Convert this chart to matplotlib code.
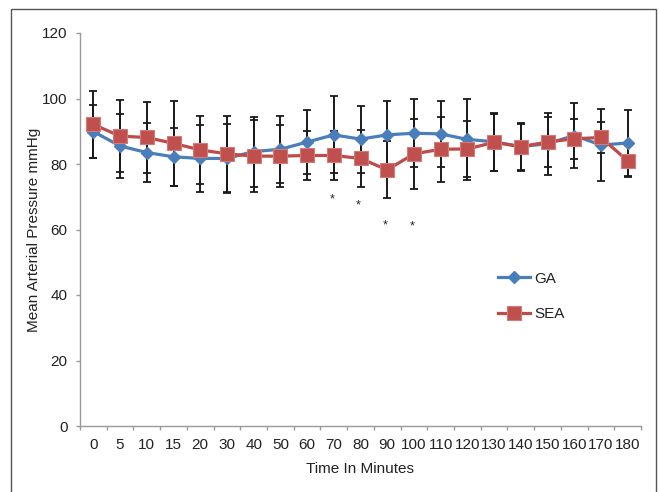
import matplotlib
matplotlib.use("Agg")
import matplotlib.pyplot as plt
from matplotlib.patches import Rectangle
import numpy as np

plt.rcParams['font.family'] = ['Liberation Sans', 'DejaVu Sans']

time_labels = ["0", "5", "10", "15", "20", "30", "40", "50", "60", "70", "80",
               "90", "100", "110", "120", "130", "140", "150", "160", "170", "180"]
ga_mean = [89.9, 85.5, 83.5, 82.2, 81.7, 81.7, 83.8, 84.5, 86.7, 88.9, 87.6,
           88.9, 89.4, 89.2, 87.5, 86.8, 85.3, 86.2, 88.7, 85.8, 86.4]
ga_err = [8.2, 9.8, 8.9, 8.9, 10.2, 10.5, 10.7, 10.3, 9.8, 11.8, 10.2,
          10.4, 10.4, 10.1, 12.5, 8.9, 7.3, 9.5, 10.0, 11.0, 10.2]
sea_mean = [92.1, 88.5, 88.1, 86.3, 84.3, 83.1, 82.4, 82.4, 82.6, 82.6, 81.7,
            78.2, 83.1, 84.5, 84.6, 86.6, 85.3, 86.7, 87.7, 88.1, 81.0]
sea_err = [10.3, 11.0, 10.7, 12.9, 10.4, 11.6, 11.0, 9.5, 7.6, 7.5, 8.7,
           8.7, 10.6, 9.9, 8.6, 8.7, 7.0, 7.5, 6.1, 4.6, 4.9]
star_labels = ["70", "80", "90", "100"]
star_values = [70.3, 68.5, 62.1, 61.8]

W, H = 659, 492
fig = plt.figure(figsize=(W / 100, H / 100), dpi=100)
ax = fig.add_axes([80 / W, 1 - 426 / H, (641 - 80) / W, (426 - 33) / H])

x = np.arange(len(time_labels))
blue = '#4A7EBB'
red = '#BE4B48'
fs = 11

ax.errorbar(x, ga_mean, yerr=ga_err, fmt='none', ecolor='#1a1a1a',
            elinewidth=1.4, capsize=3, capthick=1.3, zorder=1)
ax.errorbar(x, sea_mean, yerr=sea_err, fmt='none', ecolor='#1a1a1a',
            elinewidth=1.4, capsize=3, capthick=1.3, zorder=1)
ax.plot(x, ga_mean, color=blue, lw=2.3, marker='D', ms=6.5,
        mfc=blue, mec=blue, label='GA', zorder=3)
ax.plot(x, sea_mean, color=red, lw=2.3, marker='s', ms=9.5,
        mfc='#C0504D', mec='#D27B79', mew=0.8, label='SEA', zorder=3)

for lab, val in zip(star_labels, star_values):
    i = time_labels.index(lab)
    ax.text(i - 0.07, val - 1.0, '*', ha='center', va='center', fontsize=9,
            color='#222222')

ax.set_xlim(-0.5, len(time_labels) - 0.5)
ax.set_ylim(0, 120)
ax.set_yticks(np.arange(0, 121, 20))
ax.set_xticks(x)
ax.set_xticklabels(time_labels)
ax.set_xticks(np.arange(-0.5, len(time_labels), 1), minor=True)

for s in ['top', 'right']:
    ax.spines[s].set_visible(False)
for s in ['left', 'bottom']:
    ax.spines[s].set_color('#9a9a9a')
    ax.spines[s].set_linewidth(1.0)

ax.tick_params(axis='x', which='major', length=0, pad=8.5, labelsize=fs,
               labelcolor='#222222')
ax.tick_params(axis='x', which='minor', length=3, width=1, color='#9a9a9a',
               direction='out')
ax.tick_params(axis='y', length=3, width=1, color='#9a9a9a', pad=6,
               labelsize=fs, labelcolor='#222222')

ax.set_xlabel('Time In Minutes', fontsize=fs, color='#222222')
ax.xaxis.set_label_coords(0.5, (426 - 462) / 393)
ax.set_ylabel('Mean Arterial Pressure mmHg', fontsize=fs, color='#222222')
ax.yaxis.set_label_coords((41 - 80) / 561, 0.5)

leg = ax.legend(loc='center left', bbox_to_anchor=((498 - 80) / 561, (426 - 296.5) / 393),
                frameon=False, fontsize=fs, handlelength=2.1, handletextpad=0.25,
                labelspacing=1.4, borderpad=0, borderaxespad=0)
for t in leg.get_texts():
    t.set_color('#222222')

fig.patches.append(Rectangle((11 / W, -0.05), (656 - 11) / W, (H - 9) / H + 0.05,
                             transform=fig.transFigure, fill=False,
                             edgecolor='#555555', linewidth=1.0))

fig.savefig('out.png', dpi=100)
